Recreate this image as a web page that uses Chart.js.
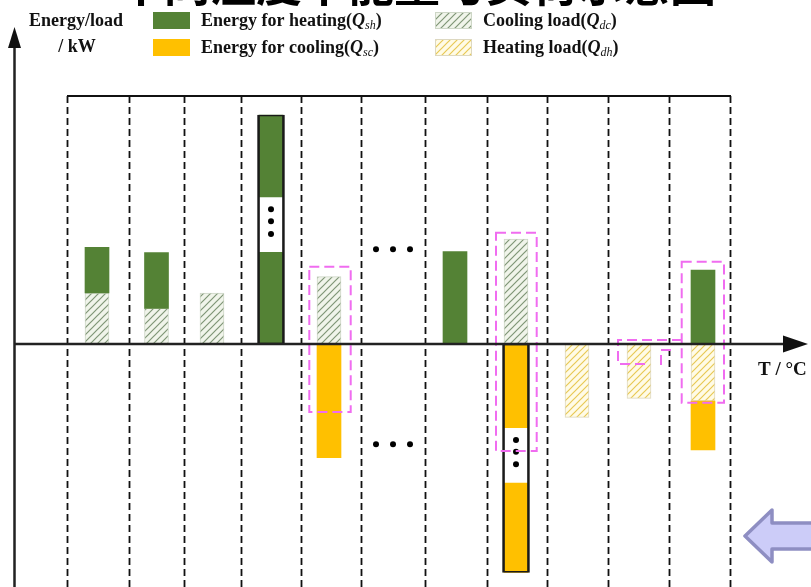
<!DOCTYPE html>
<html>
<head>
<meta charset="utf-8">
<script src="https://cdn.jsdelivr.net/npm/chart.js@4.4.0/dist/chart.umd.min.js"></script>
<style>
  html, body { margin: 0; padding: 0; background: #fff; }
  canvas { display: block; }
</style>
</head>
<body>
<canvas id="myChart" width="811" height="587"></canvas>
<script>
// edges of the temperature intervals on the T axis
const tempBounds = [0, 6.2, 11.7, 17.4, 23.4, 29.4, 35.8, 42.0, 48.0, 54.1, 60.2, 66.3];

// [T, from, to] for every bar segment
const heatingEnergy = [[3.0, 5.1, 9.67], [8.95, 3.57, 9.13], [20.4, 0, 9.23], [20.4, 14.63, 22.9], [38.8, 0, 9.23], [63.6, 0, 7.4]];
const coolingEnergy = [[26.2, -11.37, 0], [44.9, -8.43, 0], [44.9, -22.83, -13.83], [63.6, -10.6, -5.7]];
const coolingLoad = [[3.0, 0, 5.1], [8.95, 0, 3.57], [14.5, 0, 5.1], [26.2, 0, 6.73], [44.9, 0, 10.5]];
const heatingLoad = [[51.0, -7.33, 0], [57.2, -5.43, 0], [63.6, -5.7, 0]];

// bars that are too tall get cut, with dots in the gap
const cutGaps = [[20.4, 9.23, 14.63], [44.9, -13.83, -8.43]];
const cutFrames = [[20.4, 0, 22.9], [44.9, -22.83, 0]];
const cutDots = [[20.4, 13.47], [20.4, 12.27], [20.4, 11.0], [44.9, -9.6], [44.9, -10.77], [44.9, -12.03]];
// skipped intervals
const skipDots = [[30.9, 9.47], [32.6, 9.47], [34.3, 9.47], [30.9, -10.03], [32.6, -10.03], [34.3, -10.03]];

// matched load/energy groups: [T from, T to, low, high]
const matchBoxes = [[24.23, 28.37, -6.8, 7.73], [42.9, 46.97, -10.7, 11.13], [61.47, 65.7, -5.87, 8.23]];
const matchLines = [
  [[61.5, 0.4], [55.1, 0.4], [55.1, -2.0], [58.3, -2.0]],
  [[59.4, -2.1], [59.4, -0.6], [60.5, -0.6]]
];

const SERIF = '"Liberation Serif", "Times New Roman", serif';

function hatch(bg, stroke) {
  const c = document.createElement('canvas');
  c.width = 7; c.height = 7;
  const g = c.getContext('2d');
  g.fillStyle = bg;
  g.fillRect(0, 0, 7, 7);
  g.strokeStyle = stroke;
  g.lineWidth = 1.2;
  g.beginPath();
  g.moveTo(0, 7); g.lineTo(7, 0);
  g.moveTo(-1, 1); g.lineTo(1, -1);
  g.moveTo(6, 8); g.lineTo(8, 6);
  g.stroke();
  return g.createPattern(c, 'repeat');
}

const greenHatch = hatch('#f0f4ea', '#7f9676');
const yellowHatch = hatch('#fffbe6', '#e8c955');

const toBars = rows => rows.map(([t, a, b]) => ({ x: t, y: [a, b] }));
const toPoints = rows => rows.map(([t, v]) => ({ x: t, y: v }));

// text made of runs: [text, font, dy]
function drawRuns(ctx, x, y, runs) {
  runs.forEach(([t, f, dy]) => {
    ctx.font = f;
    ctx.fillText(t, x, y + (dy || 0));
    x += ctx.measureText(t).width;
  });
}

function labelRuns(main, sub) {
  return [
    [main + '(', 'bold 18px ' + SERIF],
    ['Q', 'italic bold 18px ' + SERIF],
    [sub, 'italic 12px ' + SERIF, 3],
    [')', 'bold 18px ' + SERIF]
  ];
}

const schematic = {
  id: 'schematic',
  beforeDatasetsDraw(chart) {
    const { ctx, chartArea: area, scales: { x } } = chart;
    ctx.save();
    ctx.strokeStyle = '#111';
    ctx.lineWidth = 1.8;
    ctx.setLineDash([7, 4]);
    tempBounds.forEach(v => {
      const px = Math.round(x.getPixelForValue(v)) + 0.5;
      ctx.beginPath();
      ctx.moveTo(px, area.top);
      ctx.lineTo(px, area.bottom);
      ctx.stroke();
    });
    ctx.setLineDash([]);
    ctx.lineWidth = 2;
    ctx.beginPath();
    ctx.moveTo(x.getPixelForValue(tempBounds[0]), area.top);
    ctx.lineTo(x.getPixelForValue(tempBounds[tempBounds.length - 1]) + 1, area.top);
    ctx.stroke();
    ctx.restore();
  },
  afterDatasetsDraw(chart) {
    const { ctx, scales: { x, y } } = chart;
    const W = chart.width, H = chart.height;
    const y0 = y.getPixelForValue(0);
    ctx.save();

    // dashed pink groups
    ctx.strokeStyle = '#f06cf0';
    ctx.lineWidth = 2;
    ctx.setLineDash([10, 5]);
    matchBoxes.forEach(([t1, t2, lo, hi]) => {
      const l = x.getPixelForValue(t1), r = x.getPixelForValue(t2);
      const top = y.getPixelForValue(hi), bot = y.getPixelForValue(lo);
      ctx.strokeRect(l, top, r - l, bot - top);
    });
    matchLines.forEach(pts => {
      ctx.beginPath();
      pts.forEach(([t, v], i) => {
        const px = x.getPixelForValue(t), py = y.getPixelForValue(v);
        if (i === 0) ctx.moveTo(px, py); else ctx.lineTo(px, py);
      });
      ctx.stroke();
    });
    ctx.setLineDash([]);

    // axes with arrow heads
    ctx.strokeStyle = '#222';
    ctx.fillStyle = '#111';
    ctx.lineWidth = 2.5;
    const yAxisX = 14.5;
    ctx.beginPath();
    ctx.moveTo(yAxisX, H);
    ctx.lineTo(yAxisX, 44);
    ctx.moveTo(yAxisX - 1, y0);
    ctx.lineTo(786, y0);
    ctx.stroke();
    ctx.beginPath();
    ctx.moveTo(yAxisX, 27);
    ctx.lineTo(yAxisX + 6.5, 48);
    ctx.lineTo(yAxisX - 6.5, 48);
    ctx.closePath();
    ctx.fill();
    ctx.beginPath();
    ctx.moveTo(808, y0);
    ctx.lineTo(783, y0 - 8.5);
    ctx.lineTo(783, y0 + 8.5);
    ctx.closePath();
    ctx.fill();

    // axis titles
    ctx.fillStyle = '#111';
    ctx.textBaseline = 'alphabetic';
    ctx.textAlign = 'center';
    ctx.font = 'bold 18px ' + SERIF;
    ctx.fillText('Energy/load', 76, 26);
    ctx.fillText('/ kW', 77, 52);
    ctx.textAlign = 'left';
    ctx.font = 'bold 19px ' + SERIF;
    ctx.fillText('T / \u00B0C', 758, 375);

    // legend
    const ds = chart.data.datasets;
    const items = [
      [ds[0], 153, 12, 'Energy for heating', 'sh'],
      [ds[1], 153, 39, 'Energy for cooling', 'sc'],
      [ds[2], 435, 12, 'Cooling load', 'dc'],
      [ds[3], 435, 39, 'Heating load', 'dh']
    ];
    items.forEach(([d, lx, ly, main, sub]) => {
      ctx.fillStyle = d.backgroundColor;
      ctx.fillRect(lx, ly, 37, 17);
      if (d.borderWidth) {
        ctx.strokeStyle = d.borderColor;
        ctx.lineWidth = 1;
        ctx.strokeRect(lx + 0.5, ly + 0.5, 36, 16);
      }
      ctx.fillStyle = '#111';
      drawRuns(ctx, lx + 48, ly + 14, labelRuns(main, sub));
    });

    // slide heading above the figure
    ctx.font = 'bold 46px "Noto Sans CJK SC"';
    ctx.fillStyle = '#000';
    ctx.fillText('不同温度下能量与负荷示意图', 118, 1);

    // navigation arrow
    ctx.beginPath();
    ctx.moveTo(745, 536);
    ctx.lineTo(772, 510);
    ctx.lineTo(772, 523);
    ctx.lineTo(W + 5, 523);
    ctx.lineTo(W + 5, 549);
    ctx.lineTo(772, 549);
    ctx.lineTo(772, 562);
    ctx.closePath();
    ctx.fillStyle = '#ccccf8';
    ctx.fill();
    ctx.strokeStyle = '#8e8ec2';
    ctx.lineWidth = 3.5;
    ctx.lineJoin = 'round';
    ctx.stroke();

    ctx.restore();
  }
};

new Chart(document.getElementById('myChart'), {
  type: 'bar',
  data: {
    datasets: [
      {
        label: 'Energy for heating',
        data: toBars(heatingEnergy),
        backgroundColor: '#548235',
        borderWidth: 0,
        barThickness: 24,
        grouped: false,
        order: 2
      },
      {
        label: 'Energy for cooling',
        data: toBars(coolingEnergy),
        backgroundColor: '#ffc000',
        borderWidth: 0,
        barThickness: 24,
        grouped: false,
        order: 2
      },
      {
        label: 'Cooling load',
        data: toBars(coolingLoad),
        backgroundColor: greenHatch,
        borderColor: '#cdd6c6',
        borderWidth: 1,
        borderSkipped: false,
        barThickness: 24,
        grouped: false,
        order: 2
      },
      {
        label: 'Heating load',
        data: toBars(heatingLoad),
        backgroundColor: yellowHatch,
        borderColor: '#ddd8c0',
        borderWidth: 1,
        borderSkipped: false,
        barThickness: 24,
        grouped: false,
        order: 2
      },
      {
        label: 'cut',
        data: toBars(cutGaps),
        backgroundColor: '#ffffff',
        borderWidth: 0,
        barThickness: 24,
        grouped: false,
        order: 1
      },
      {
        label: 'cut frame',
        data: toBars(cutFrames),
        backgroundColor: 'rgba(0,0,0,0)',
        borderColor: '#1a1a1a',
        borderWidth: { left: 2, right: 2, top: 1, bottom: 1 },
        borderSkipped: false,
        barThickness: 27,
        grouped: false,
        order: 0
      },
      {
        type: 'scatter',
        label: 'dots',
        data: toPoints(cutDots.concat(skipDots)),
        pointRadius: 3,
        pointBackgroundColor: '#000',
        pointBorderWidth: 0,
        order: -1
      }
    ]
  },
  options: {
    responsive: false,
    devicePixelRatio: 1,
    animation: false,
    events: [],
    layout: { autoPadding: false, padding: { left: 67, right: 81, top: 96, bottom: 0 } },
    plugins: { legend: { display: false }, tooltip: { enabled: false } },
    scales: {
      x: { type: 'linear', offset: false, min: 0, max: 66.3, display: false },
      y: { type: 'linear', min: -24.3, max: 24.8, display: false }
    }
  },
  plugins: [schematic]
});
</script>
</body>
</html>
